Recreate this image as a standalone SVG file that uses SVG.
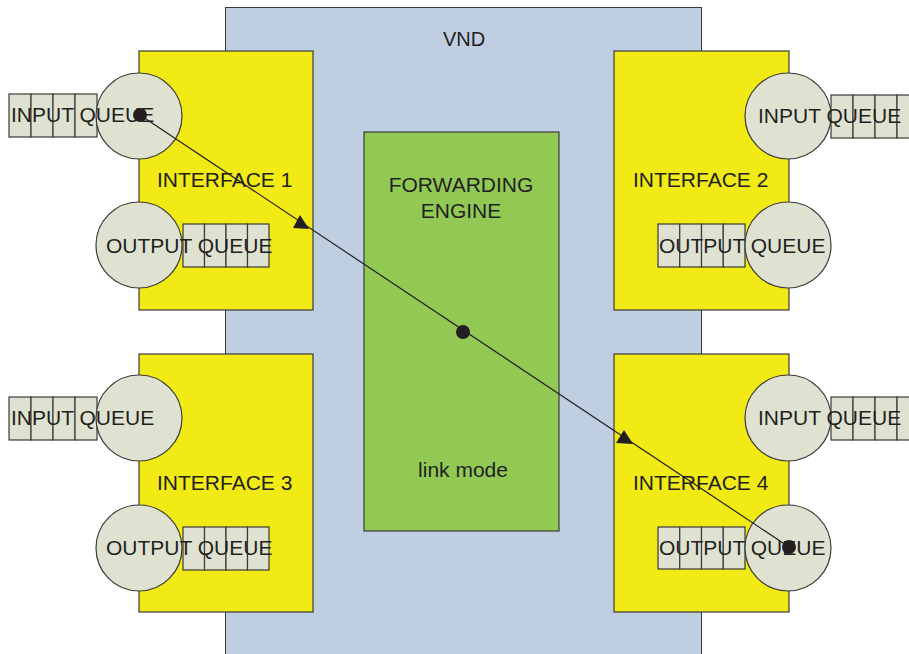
<svg xmlns="http://www.w3.org/2000/svg" width="909" height="654" viewBox="0 0 909 654">
<defs>
<style>
.vnd{fill:#bfcfe1;stroke:#3a3a3a;stroke-width:1}
.iface{fill:#f2ea15;stroke:#3a3a3a;stroke-width:1.2}
.fe{fill:#92c954;stroke:#3a3a3a;stroke-width:1.2}
.q{fill:#dfe2d1;stroke:#3a3a3a;stroke-width:1.2}
.t{font-family:"Liberation Sans",Arial,sans-serif;font-size:21px;fill:#231f20}
.c{text-anchor:middle}
.ln{stroke:#231f20;stroke-width:1.2;fill:none}
.dot{fill:#231f20}
</style>
</defs>
<rect width="909" height="654" fill="#ffffff"/>
<g id="vnd">
<rect class="vnd" x="225.5" y="7.5" width="476" height="660"/>
<text class="t c" x="464" y="46" style="font-size:20px">VND</text>
</g>
<g id="forwarding-engine">
<rect class="fe" x="364" y="132" width="195" height="399"/>
<text class="t c" x="461" y="192">FORWARDING</text>
<text class="t c" x="461" y="218">ENGINE</text>
<text class="t c" x="463" y="477">link mode</text>
</g>
<g id="interface1">
<rect class="iface" x="139" y="51" width="174" height="259"/>
<g class="q"><rect x="9" y="94" width="22" height="43"/><rect x="31" y="94" width="22" height="43"/><rect x="53" y="94" width="22" height="43"/><rect x="75" y="94" width="22" height="43"/></g>
<circle class="q" cx="139" cy="116" r="43"/>
<text class="t" x="11" y="122">INPUT QUEUE</text>
<text class="t" x="157" y="187">INTERFACE 1</text>
<g class="q"><rect x="183" y="224" width="21.5" height="43"/><rect x="204.5" y="224" width="21.5" height="43"/><rect x="226" y="224" width="21.5" height="43"/><rect x="247.5" y="224" width="21.5" height="43"/></g>
<circle class="q" cx="139" cy="245" r="43"/>
<text class="t" x="106" y="253">OUTPUT QUEUE</text>
</g>
<g id="interface2">
<rect class="iface" x="614" y="51" width="175" height="259"/>
<g class="q"><rect x="831" y="95" width="22" height="43"/><rect x="853" y="95" width="22" height="43"/><rect x="875" y="95" width="22" height="43"/><rect x="897" y="95" width="22" height="43"/></g>
<circle class="q" cx="788" cy="116" r="43"/>
<text class="t" x="758" y="123">INPUT QUEUE</text>
<text class="t" x="633" y="187">INTERFACE 2</text>
<g class="q"><rect x="658" y="224" width="21.75" height="43"/><rect x="679.75" y="224" width="21.75" height="43"/><rect x="701.5" y="224" width="21.75" height="43"/><rect x="723.25" y="224" width="21.75" height="43"/></g>
<circle class="q" cx="788" cy="245" r="43"/>
<text class="t" x="659" y="253">OUTPUT QUEUE</text>
</g>
<g id="interface3">
<rect class="iface" x="139" y="354" width="174" height="258"/>
<g class="q"><rect x="9" y="397" width="22" height="43"/><rect x="31" y="397" width="22" height="43"/><rect x="53" y="397" width="22" height="43"/><rect x="75" y="397" width="22" height="43"/></g>
<circle class="q" cx="139" cy="418" r="43"/>
<text class="t" x="11" y="425">INPUT QUEUE</text>
<text class="t" x="157" y="490">INTERFACE 3</text>
<g class="q"><rect x="183" y="527" width="21.5" height="43"/><rect x="204.5" y="527" width="21.5" height="43"/><rect x="226" y="527" width="21.5" height="43"/><rect x="247.5" y="527" width="21.5" height="43"/></g>
<circle class="q" cx="139" cy="548" r="43"/>
<text class="t" x="106" y="555">OUTPUT QUEUE</text>
</g>
<g id="interface4">
<rect class="iface" x="614" y="354" width="175" height="258"/>
<g class="q"><rect x="831" y="397" width="22" height="43"/><rect x="853" y="397" width="22" height="43"/><rect x="875" y="397" width="22" height="43"/><rect x="897" y="397" width="22" height="43"/></g>
<circle class="q" cx="788" cy="418" r="43"/>
<text class="t" x="758" y="425">INPUT QUEUE</text>
<text class="t" x="633" y="490">INTERFACE 4</text>
<g class="q"><rect x="658" y="527" width="21.75" height="42"/><rect x="679.75" y="527" width="21.75" height="42"/><rect x="701.5" y="527" width="21.75" height="42"/><rect x="723.25" y="527" width="21.75" height="42"/></g>
<circle class="q" cx="788" cy="548" r="43"/>
<text class="t" x="659" y="555">OUTPUT QUEUE</text>
</g>
<g id="connectors">
<line class="ln" x1="140" y1="115" x2="789" y2="547"/>
<circle class="dot" cx="140" cy="115" r="7"/>
<circle class="dot" cx="463" cy="332" r="7"/>
<circle class="dot" cx="789" cy="547" r="7"/>
<polygon class="dot" points="300,215 293,228 309,229"/>
<polygon class="dot" points="624,430 616,443 633,444"/>
</g>
</svg>
